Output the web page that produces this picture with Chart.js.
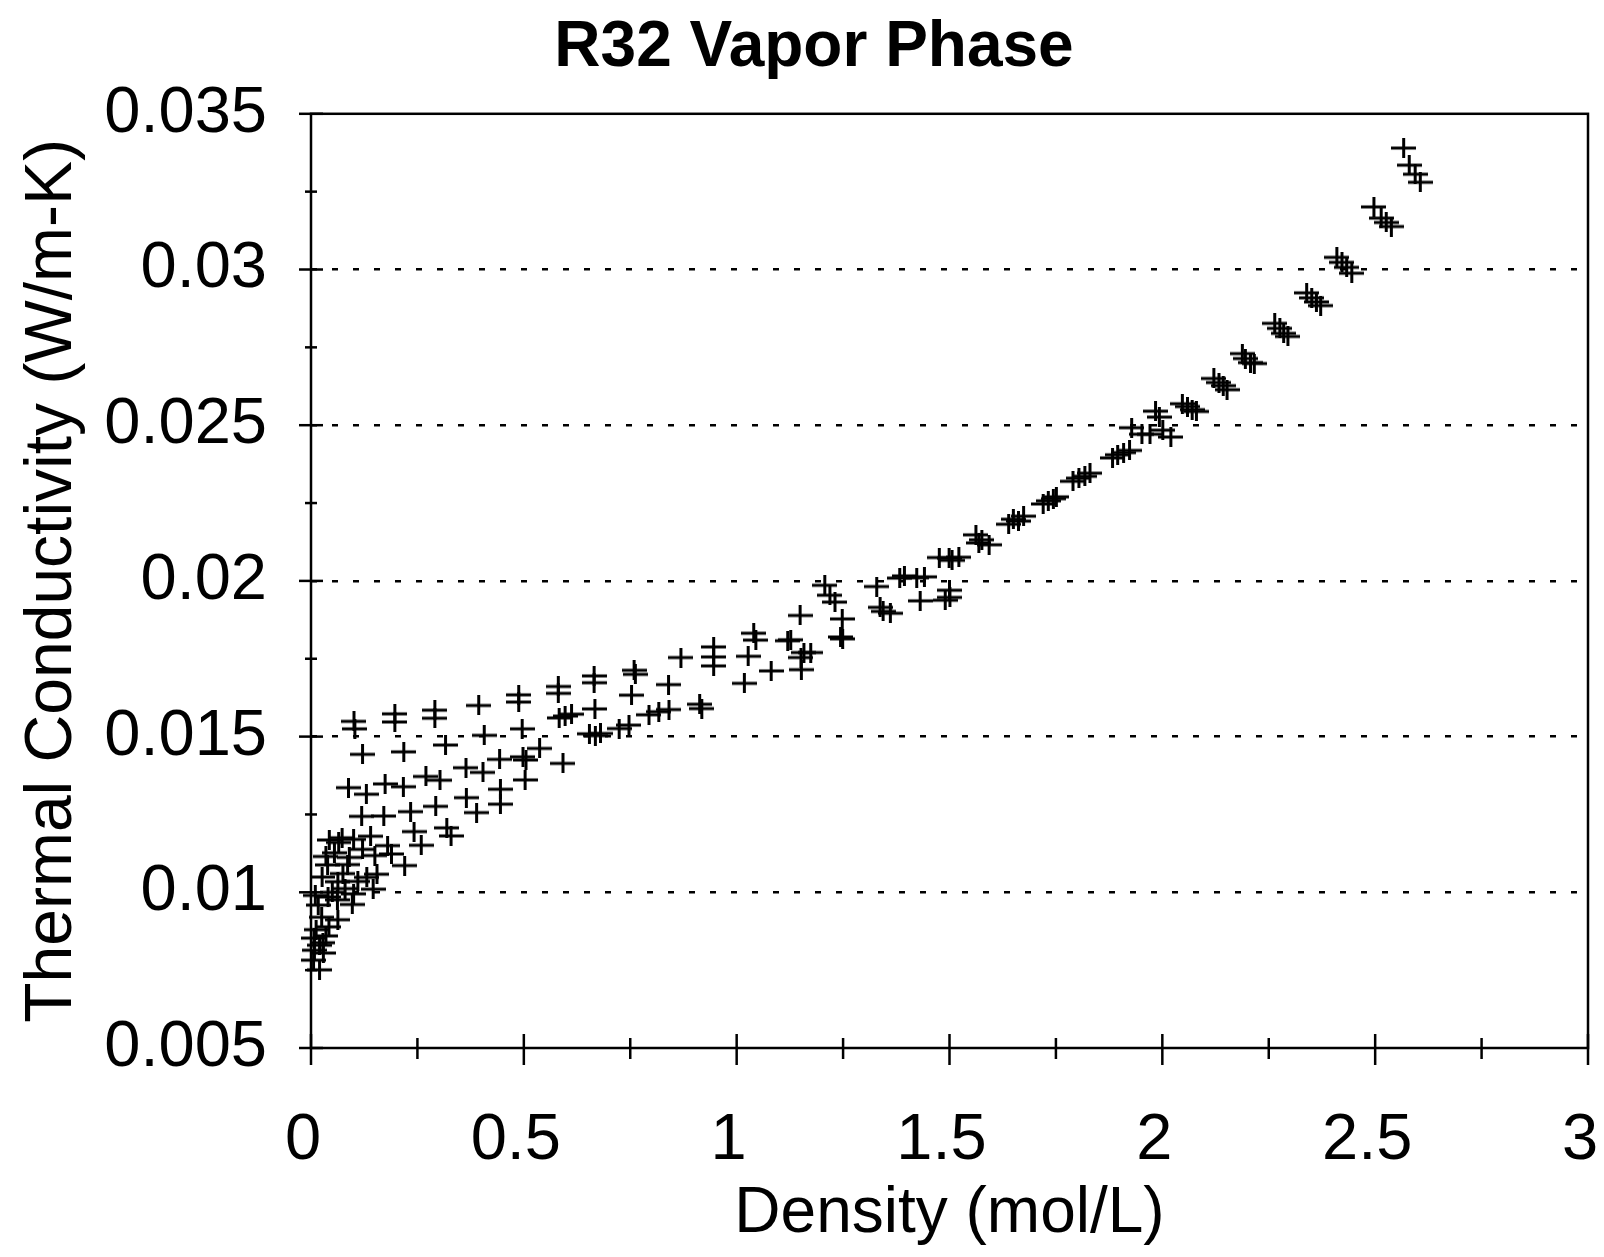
<!DOCTYPE html>
<html>
<head>
<meta charset="utf-8">
<title>R32 Vapor Phase</title>
<script src="https://cdn.jsdelivr.net/npm/chart.js@4.4.1/dist/chart.umd.min.js"></script>
<style>
  html, body { margin: 0; padding: 0; background: #fff; }
  canvas { display: block; }
</style>
</head>
<body>
<canvas id="chart" width="1604" height="1257"></canvas>
<script>
// --- data: density (mol/L) / thermal conductivity (W/m-K) ---
const lowDensity = [0.020, 0.006, 0.029, 0.008, 0.028, 0.007, 0.042, 0.063, 0.017, 0.062, 0.097, 0.010, 0.040,
    0.026, 0.063, 0.110, 0.146, 0.039, 0.086, 0.131, 0.155, 0.055, 0.121, 0.189, 0.220, 0.043, 0.073, 0.242,
    0.259, 0.319, 0.329, 0.119, 0.171, 0.234, 0.293, 0.365, 0.389, 0.445, 0.445, 0.088, 0.130, 0.174, 0.217,
    0.270, 0.303, 0.364, 0.404, 0.505, 0.503, 0.537, 0.592, 0.443, 0.498,
    0.050, 0.080, 0.100, 0.035, 0.090, 0.150, 0.065, 0.100, 0.025, 0.012, 0.035, 0.020, 0.075, 0.180, 0.140];
const lowConductivity = [0.00751, 0.00782, 0.00805, 0.00814, 0.00838, 0.00853, 0.00889, 0.00912, 0.00959, 0.00976,
    0.00961, 0.00990, 0.00985, 0.01049, 0.01034, 0.01035, 0.01010, 0.01088, 0.01089, 0.01048, 0.01058, 0.01127,
    0.01138, 0.01123, 0.01086, 0.01168, 0.01175, 0.01195, 0.01151, 0.01207, 0.01181, 0.01244, 0.01245, 0.01259,
    0.01276, 0.01304, 0.01256, 0.01283, 0.01331, 0.01336, 0.01315, 0.01348, 0.01339, 0.01372, 0.01360, 0.01400,
    0.01385, 0.01425, 0.01361, 0.01462, 0.01414, 0.01427, 0.01435,
    0.01000, 0.01012, 0.00995, 0.01115, 0.01112, 0.01118, 0.01160, 0.01170, 0.00920, 0.00880, 0.00860, 0.00830,
    0.01060, 0.01150, 0.01180];

const midDensity = [0.121, 0.218, 0.316, 0.407, 0.496, 0.583, 0.597, 0.612, 0.667, 0.654, 0.668, 0.680, 0.724,
    0.747, 0.101, 0.103, 0.197, 0.197, 0.291, 0.291, 0.394, 0.488, 0.488, 0.581, 0.581, 0.665, 0.665, 0.759,
    0.762, 0.869, 0.946, 0.946, 0.946, 1.040, 1.045, 1.120, 1.158, 1.244, 1.027, 1.081, 1.152, 1.018, 0.840,
    0.753, 0.913, 0.918, 0.794, 0.817, 0.841, 1.127, 1.151, 1.174, 1.149, 1.207, 1.219, 1.231, 1.248, 1.249,
    1.329, 1.344, 1.383, 1.423, 1.431, 1.501, 1.476, 1.506, 1.569, 1.337, 1.361, 1.562, 1.576, 1.593, 1.499,
    1.522, 1.394, 1.441, 1.500, 1.490];
const midConductivity = [0.01443, 0.01451, 0.01473, 0.01504, 0.01525, 0.01560, 0.01566, 0.01572, 0.01589,
    0.01509, 0.01503, 0.01510, 0.01526, 0.01537, 0.01549, 0.01525, 0.01573, 0.01547, 0.01585, 0.01559, 0.01600,
    0.01634, 0.01611, 0.01661, 0.01639, 0.01695, 0.01673, 0.01713, 0.01700, 0.01754, 0.01788, 0.01756, 0.01727,
    0.01832, 0.01810, 0.01808, 0.01770, 0.01820, 0.01758, 0.01711, 0.01715, 0.01671, 0.01667, 0.01633, 0.01604,
    0.01590, 0.01570, 0.01580, 0.01587, 0.01811, 0.01754, 0.01770, 0.01889, 0.01986, 0.01954, 0.01932, 0.01878,
    0.01814, 0.01982, 0.01902, 0.02009, 0.02010, 0.01936, 0.01947, 0.02075, 0.02066, 0.02122, 0.01915, 0.01896,
    0.02148, 0.02132, 0.02116, 0.02073, 0.02076, 0.02016, 0.02013, 0.01970, 0.01938];

const highDensity = [1.639, 1.650, 1.662, 1.674, 1.720, 1.732, 1.744, 1.751, 1.790, 1.804, 1.818, 1.830,
    1.883, 1.895, 1.909, 1.923, 1.928, 1.952, 1.971, 1.984, 1.993, 2.001, 2.020, 2.047, 2.059, 2.070, 2.080,
    2.121, 2.133, 2.143, 2.152, 2.188, 2.195, 2.207, 2.216, 2.264, 2.276, 2.285, 2.295, 2.339, 2.351, 2.362,
    2.372, 2.410, 2.422, 2.433, 2.445, 2.497, 2.514, 2.526, 2.538, 2.567, 2.580, 2.594, 2.606];
const highConductivity = [0.02182, 0.02198, 0.02192, 0.02208, 0.02247, 0.02257, 0.02264, 0.02270, 0.02320,
    0.02330, 0.02336, 0.02346, 0.02395, 0.02405, 0.02412, 0.02419, 0.02492, 0.02471, 0.02471, 0.02545, 0.02526,
    0.02484, 0.02462, 0.02569, 0.02560, 0.02550, 0.02544, 0.02650, 0.02637, 0.02627, 0.02614, 0.02730, 0.02714,
    0.02701, 0.02698, 0.02827, 0.02811, 0.02795, 0.02785, 0.02925, 0.02909, 0.02896, 0.02884, 0.03039, 0.03023,
    0.03007, 0.02988, 0.03201, 0.03165, 0.03151, 0.03138, 0.03390, 0.03335, 0.03306, 0.03280];

const xTickLabels = ['0', '0.5', '1', '1.5', '2', '2.5', '3'];
const yTickLabels = ['0.005', '0.01', '0.015', '0.02', '0.025', '0.03', '0.035'];

// --- helpers ---
const FONT = "'Liberation Sans', Arial, Helvetica, sans-serif";

function toPoints(xs, ys) {
    return xs.map((x, i) => ({ x: x, y: ys[i] }));
}

// "+" marker, a bit wider than tall like the original
function makeCross(w, h, lw) {
    const c = document.createElement('canvas');
    c.width = w; c.height = h;
    const g = c.getContext('2d');
    g.strokeStyle = '#000';
    g.lineWidth = lw;
    g.beginPath();
    g.moveTo(0, h / 2); g.lineTo(w, h / 2);
    g.moveTo(w / 2, 0); g.lineTo(w / 2, h);
    g.stroke();
    return c;
}

const allPoints = toPoints(lowDensity, lowConductivity)
    .concat(toPoints(midDensity, midConductivity))
    .concat(toPoints(highDensity, highConductivity));

// frame + tick marks that cross the axes (major and minor)
const axisFrame = {
    id: 'axisFrame',
    beforeDatasetsDraw(chart) {
        const { ctx, chartArea: a, scales: { x, y } } = chart;
        const line = (x1, y1, x2, y2) => {
            ctx.beginPath(); ctx.moveTo(x1, y1); ctx.lineTo(x2, y2); ctx.stroke();
        };
        ctx.save();
        ctx.strokeStyle = '#000';
        ctx.lineWidth = 2.5;
        ctx.strokeRect(a.left, a.top, a.right - a.left, a.bottom - a.top);

        const yv = y.ticks.map(t => t.value);
        yv.forEach((v, i) => {
            const py = y.getPixelForValue(v);
            line(a.left - 12, py, a.left + 12, py);
            if (i < yv.length - 1) {
                const pm = y.getPixelForValue((v + yv[i + 1]) / 2);
                line(a.left - 6, pm, a.left + 6, pm);
            }
        });
        const xv = x.ticks.map(t => t.value);
        xv.forEach((v, i) => {
            const px = x.getPixelForValue(v);
            line(px, a.bottom - 14, px, a.bottom + 17);
            if (i < xv.length - 1) {
                const pm = x.getPixelForValue((v + xv[i + 1]) / 2);
                line(pm, a.bottom - 10, pm, a.bottom + 11);
            }
        });
        ctx.restore();
    }
};

const chart = new Chart(document.getElementById('chart').getContext('2d'), {
    type: 'scatter',
    data: {
        datasets: [{
            label: 'R32 vapor',
            data: allPoints,
            pointStyle: makeCross(25, 20, 3),
            pointRadius: 12,
            pointHoverRadius: 12,
            showLine: false,
            clip: false
        }]
    },
    options: {
        responsive: false,
        animation: false,
        events: [],
        layout: { padding: { left: 40, top: 0, right: 16, bottom: 0 } },
        plugins: {
            legend: { display: false },
            tooltip: { enabled: false },
            title: {
                display: true,
                text: 'R32 Vapor Phase',
                color: '#000',
                font: { family: FONT, size: 64, weight: 'bold', lineHeight: 1.2 },
                padding: { top: 10, bottom: 27 }
            }
        },
        scales: {
            x: {
                type: 'linear',
                min: 0,
                max: 3,
                ticks: {
                    stepSize: 0.5,
                    color: '#000',
                    font: { family: FONT, size: 65 },
                    padding: 54,
                    labelOffset: -8,
                    maxRotation: 0,
                    autoSkip: false,
                    callback: v => xTickLabels[Math.round(v / 0.5)]
                },
                grid: { display: false, drawTicks: false },
                border: { display: false },
                title: {
                    display: true,
                    text: 'Density (mol/L)',
                    color: '#000',
                    font: { family: FONT, size: 64, lineHeight: 1.2 },
                    padding: { top: 0, bottom: 4 }
                },
                afterFit: s => { s.height = 209; s.paddingLeft = 0; s.paddingRight = 0; }
            },
            y: {
                type: 'linear',
                min: 0.005,
                max: 0.035,
                ticks: {
                    stepSize: 0.005,
                    color: '#000',
                    font: { family: FONT, size: 65 },
                    padding: 44,
                    callback: v => yTickLabels[Math.round((v - 0.005) / 0.005)]
                },
                grid: {
                    drawTicks: false,
                    lineWidth: 2.5,
                    color: c => (c.tick && c.tick.value > 0.0051 && c.tick.value < 0.0349) ? '#000' : 'rgba(0,0,0,0)'
                },
                border: { display: false, dash: [6, 15] },
                title: {
                    display: true,
                    text: 'Thermal Conductivity (W/m-K)',
                    color: '#000',
                    // small lineHeight keeps the rotated title close to the page edge
                    font: { family: FONT, size: 66, lineHeight: 0.4 },
                    padding: { top: 0, bottom: 0 }
                },
                afterFit: s => { s.width = 271; s.paddingTop = 0; s.paddingBottom = 0; }
            }
        }
    },
    plugins: [axisFrame]
});
</script>
</body>
</html>
